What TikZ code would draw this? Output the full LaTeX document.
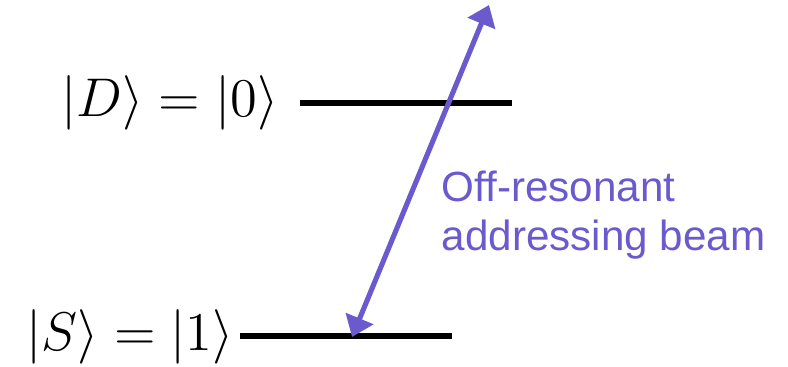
\RequirePackage{fix-cm}
\documentclass[tikz,border=0pt]{standalone}
\usepackage{fontspec}
\newfontfamily\beamfont{Liberation Sans}
\usetikzlibrary{arrows.meta}
\definecolor{beamcol}{RGB}{106,90,205}
\begin{document}
\begin{tikzpicture}[x=0.01cm,y=-0.01cm,
  level/.style={line width=1.45pt,black},
  beam/.style={line width=1.45pt,beamcol,{Triangle[length=0.2cm,width=0.29cm]}-{Triangle[length=0.2cm,width=0.29cm]}},
  statelabel/.style={inner sep=0pt,anchor=base west,font=\fontsize{15.5}{18}\selectfont},
  beamtext/.style={inner sep=0pt,anchor=base west,text=beamcol,font=\beamfont\fontsize{12}{14}\selectfont}]
\useasboundingbox (0,0) rectangle (788,367);
\coordinate (dL) at (300,103);
\coordinate (dR) at (512,103);
\coordinate (sL) at (240,336);
\coordinate (sR) at (452,336);
\coordinate (bBot) at (352,337);
\coordinate (bTop) at (489,5);
\node[statelabel] (Dlab) at (61,116.5) {$|D\rangle = |0\rangle$};
\node[statelabel] (Slab) at (26,350.5) {$|S\rangle = |1\rangle$};
\draw[level] (dL) -- (dR);
\draw[level] (sL) -- (sR);
\draw[beam] (bBot) -- (bTop);
\node[beamtext] (beam1) at (441,202) {Off-resonant};
\node[beamtext] (beam2) at (441,251) {addressing beam};
\end{tikzpicture}
\end{document}
